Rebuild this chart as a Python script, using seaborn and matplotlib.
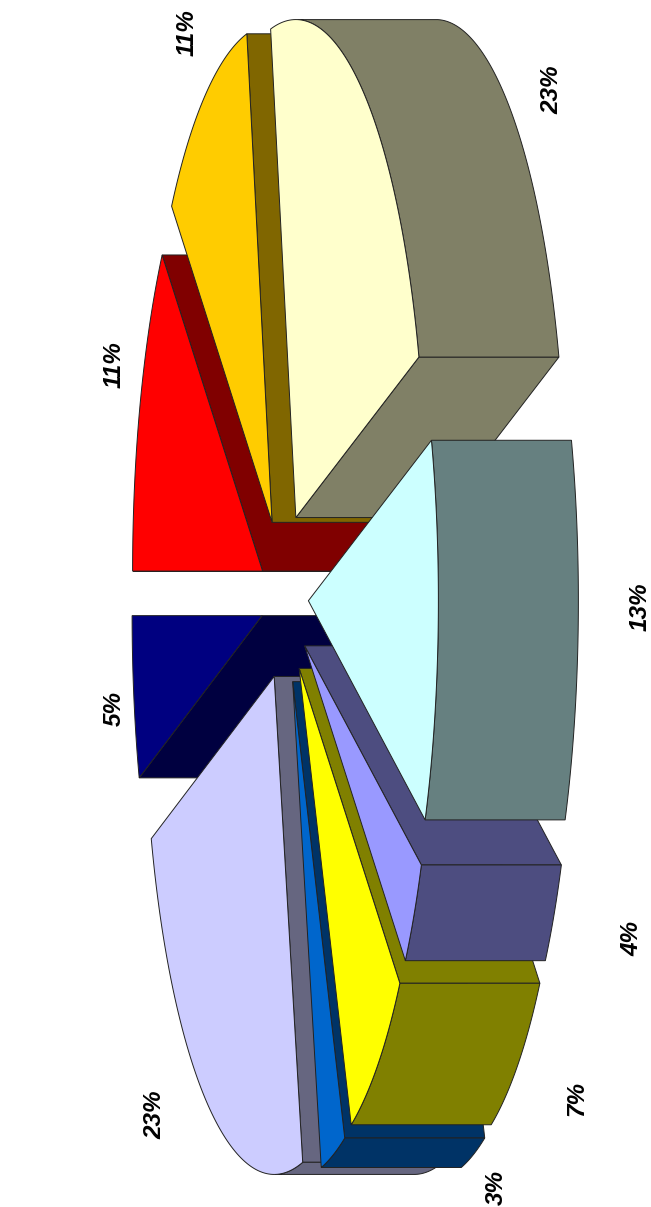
import numpy as np
import matplotlib.pyplot as plt
import seaborn as sns

# slices going round from the cyan one (clockwise on the page)
pct = [13, 4, 7, 3, 23, 5, 11, 11, 23]
tops = ['#CCFFFF', '#9999FF', '#FFFF00', '#0066CC', '#CCCCFF', '#000080', '#FF0000', '#FFCC00', '#FFFFCC']
labels = [str(p) + '%' for p in pct]
label_x = [640, 632, 577, 496, 155, 114, 114, 187, 552]
label_y = [607, 938, 1098, 1187, 1115, 708, 365, 33, 90]

# pie geometry, in pixels of the page
cx, cy = 285, 597
a, b = 130, 498
depth = 140
explode = 0.18
start = -21

# the perspective of the 3D view pulls the angles a little, less near the front
warp_at = [0, 26, 40, 65, 160, 177, 339, 360]
warp_by = [1.2, 0.3, -1.0, 1.0, 2, 3, 2.2, 1.2]


def warp(deg):
    return deg + np.interp(np.mod(deg, 360), warp_at, warp_by)


sns.set_style('white')
plt.rcParams['font.family'] = ['Liberation Sans', 'DejaVu Sans']

fig = plt.figure(figsize=(6.51, 12.07), dpi=100)
ax = fig.add_axes([0, 0, 1, 1])
ax.set_xlim(0, 651)
ax.set_ylim(1207, 0)
ax.axis('off')

ends = start + np.cumsum(pct) * 3.6
begins = ends - np.array(pct) * 3.6
mids = (begins + ends) / 2

# back slices first, so the front ones cover them
order = np.argsort(np.cos(np.radians(mids)))
for i in order:
    m = np.radians(mids[i])
    ox = cx + explode * a * np.cos(m)
    oy = cy + explode * b * np.sin(m)
    t = np.radians(warp(np.linspace(begins[i], ends[i], 90)))
    x = ox + a * np.cos(t)
    y = oy + b * np.sin(t)
    top = np.array(sns.color_palette([tops[i]])[0])
    side = top * 0.5
    kw = dict(edgecolor='#222222', linewidth=0.7)
    # only the cut faces turned to the viewer
    if np.sin(t[0]) > 0:
        ax.fill([ox, x[0], x[0] + depth, ox + depth], [oy, y[0], y[0], oy], color=side, **kw)
    if np.sin(t[-1]) < 0:
        ax.fill([ox, x[-1], x[-1] + depth, ox + depth], [oy, y[-1], y[-1], oy], color=side, **kw)
    # round face, front half only
    front = np.cos(t) > 0
    if front.sum() > 1:
        ax.fill(np.r_[x[front], x[front][::-1] + depth], np.r_[y[front], y[front][::-1]], color=side, **kw)
    ax.fill(np.r_[ox, x], np.r_[oy, y], color=top, **kw)

for s, lx, ly in zip(labels, label_x, label_y):
    ax.text(lx, ly, s, rotation=90, ha='center', va='center', fontsize=17.5,
            fontweight='bold', fontstyle='italic', color='black')

fig.savefig('out.png', dpi=100, facecolor='white')
